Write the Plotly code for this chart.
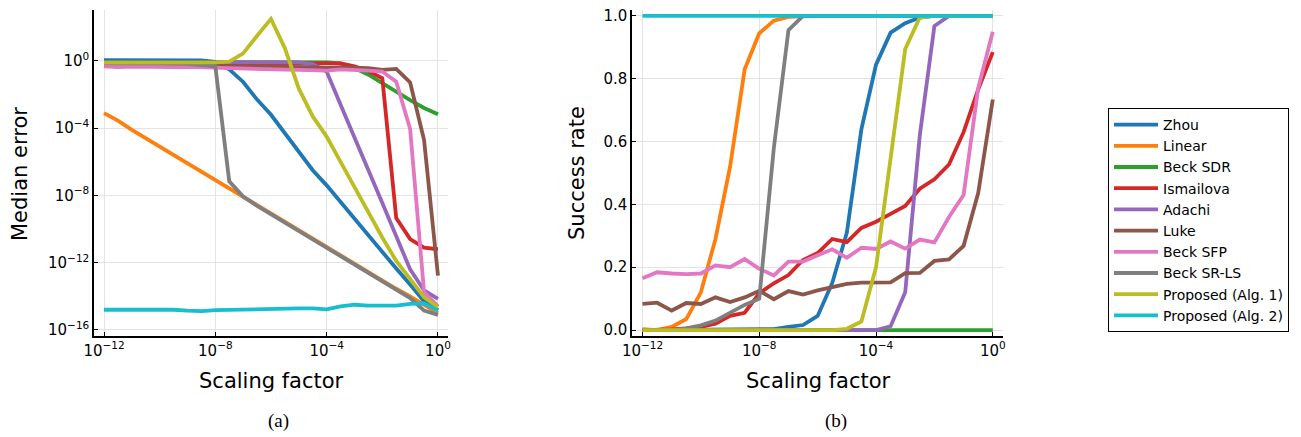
import plotly.graph_objects as go

# scaling factor exponents (x = 10**e)
scaling_exponents = [-12, -11.5, -11, -10.5, -10, -9.5, -9, -8.5, -8, -7.5, -7, -6.5, -6,
                     -5.5, -5, -4.5, -4, -3.5, -3, -2.5, -2, -1.5, -1, -0.5, 0]

methods = ["Zhou", "Linear", "Beck SDR", "Ismailova", "Adachi", "Luke",
           "Beck SFP", "Beck SR-LS", "Proposed (Alg. 1)", "Proposed (Alg. 2)"]
colors = ["#1f77b4", "#ff7f0e", "#2ca02c", "#d62728", "#9467bd", "#8c564b",
          "#e377c2", "#7f7f7f", "#bcbd22", "#17becf"]

# (a) log10 of median error
log_err_zhou = [0.05, 0.05, 0.06, 0.06, 0.06, 0.05, 0.05, 0.03, -0.05, -0.5, -1.25, -2.3, -3.2,
                -4.3, -5.4, -6.5, -7.4, -8.4, -9.35, -10.35, -11.35, -12.35, -13.3, -14.3, -14.8]
log_err_linear = [-3.1, -3.55, -4.1, -4.6, -5.1, -5.6, -6.05, -6.55, -7.05, -7.6, -8.1, -8.6, -9.05,
                  -9.55, -10.05, -10.55, -11.05, -11.55, -12.05, -12.55, -13.05, -13.55, -14.0, -14.5, -15.0]
log_err_beck_sdr = [-0.05, -0.05, -0.05, -0.05, -0.05, -0.05, -0.05, -0.05, -0.05, -0.05, -0.05, -0.05, -0.05,
                    -0.05, -0.05, -0.06, -0.08, -0.15, -0.42, -0.82, -1.33, -1.87, -2.33, -2.8, -3.17]
log_err_ismailova = [-0.15, -0.15, -0.14, -0.15, -0.14, -0.15, -0.15, -0.14, -0.15, -0.15, -0.14, -0.15, -0.15,
                     -0.14, -0.15, -0.12, -0.1, -0.15, -0.32, -0.6, -1.03, -9.35, -10.6, -11.1, -11.2]
log_err_adachi = [-0.08, -0.08, -0.07, -0.07, -0.08, -0.07, -0.07, -0.07, -0.06, -0.06, -0.05, -0.06, -0.06,
                  -0.07, -0.08, -0.18, -0.63, -2.6, -4.5, -6.5, -8.45, -10.4, -12.4, -13.65, -14.15]
log_err_luke = [-0.25, -0.25, -0.27, -0.27, -0.28, -0.28, -0.3, -0.3, -0.3, -0.32, -0.32, -0.33, -0.33,
                -0.35, -0.35, -0.37, -0.42, -0.38, -0.4, -0.43, -0.53, -0.47, -1.28, -4.7, -12.77]
log_err_beck_sfp = [-0.32, -0.36, -0.33, -0.36, -0.34, -0.37, -0.35, -0.38, -0.4, -0.42, -0.45, -0.47, -0.5,
                    -0.52, -0.53, -0.55, -0.57, -0.5, -0.52, -0.58, -0.63, -1.23, -4.05, -13.75, -14.6]
log_err_beck_srls = [-0.15, -0.15, -0.13, -0.12, -0.13, -0.15, -0.18, -0.25, -0.32, -7.16, -8.07, -8.62, -9.12,
                     -9.62, -10.12, -10.62, -11.12, -11.62, -12.12, -12.62, -13.12, -13.62, -14.1, -14.85, -15.1]
log_err_alg1 = [-0.1, -0.1, -0.1, -0.08, -0.08, -0.1, -0.08, -0.1, -0.08, -0.04, 0.45, 1.5, 2.5,
                0.75, -1.65, -3.3, -4.5, -6.0, -7.5, -9.05, -10.5, -11.9, -13.0, -14.05, -14.65]
log_err_alg2 = [-14.8, -14.8, -14.78, -14.75, -14.8, -14.8, -14.85, -14.88, -14.82, -14.8, -14.8, -14.75, -14.75,
                -14.7, -14.72, -14.72, -14.78, -14.6, -14.5, -14.55, -14.55, -14.55, -14.45, -14.42, -14.85]

# (b) success rate
succ_zhou = [0, 0, 0, 0, 0, 0, 0, 0, 0, 0.003, 0.01, 0.016, 0.045,
             0.15, 0.31, 0.64, 0.845, 0.947, 0.977, 0.995, 1, 1, 1, 1, 1]
succ_linear = [0.003, 0.0, 0.01, 0.035, 0.12, 0.29, 0.52, 0.83, 0.945, 0.985, 0.997, 1, 1,
               1, 1, 1, 1, 1, 1, 1, 1, 1, 1, 1, 1]
succ_beck_sdr = [0, 0, 0, 0, 0, 0, 0, 0, 0, 0, 0, 0, 0,
                 0, 0, 0, 0, 0, 0, 0, 0, 0, 0, 0, 0]
succ_ismailova = [0, 0, 0.002, 0.005, 0.01, 0.02, 0.045, 0.055, 0.117, 0.149, 0.175, 0.223, 0.245,
                  0.29, 0.28, 0.325, 0.345, 0.37, 0.395, 0.45, 0.48, 0.527, 0.63, 0.766, 0.885]
succ_adachi = [0, 0, 0, 0, 0, 0, 0, 0, 0, 0, 0, 0, 0,
               0, 0, 0, 0, 0.012, 0.12, 0.62, 0.968, 1, 1, 1, 1]
succ_luke = [0.083, 0.087, 0.062, 0.086, 0.083, 0.104, 0.089, 0.104, 0.125, 0.098, 0.124, 0.113, 0.126,
             0.137, 0.147, 0.151, 0.152, 0.152, 0.181, 0.182, 0.22, 0.225, 0.268, 0.436, 0.734]
succ_beck_sfp = [0.165, 0.184, 0.18, 0.178, 0.18, 0.206, 0.2, 0.226, 0.195, 0.174, 0.218, 0.218, 0.238,
                 0.257, 0.23, 0.262, 0.258, 0.282, 0.259, 0.288, 0.279, 0.36, 0.43, 0.77, 0.95]
succ_beck_srls = [0, 0, 0, 0.005, 0.015, 0.03, 0.055, 0.08, 0.10, 0.58, 0.955, 1, 1,
                  1, 1, 1, 1, 1, 1, 1, 1, 1, 1, 1, 1]
succ_alg1 = [0, 0, 0, 0, 0, 0, 0, 0, 0, 0, 0, 0, 0,
             0, 0.004, 0.027, 0.2, 0.55, 0.895, 0.995, 1, 1, 1, 1, 1]
succ_alg2 = [1, 1, 1, 1, 1, 1, 1, 1, 1, 1, 1, 1, 1,
             1, 1, 1, 1, 1, 1, 1, 1, 1, 1, 1, 1]

log_errors = [log_err_zhou, log_err_linear, log_err_beck_sdr, log_err_ismailova, log_err_adachi,
              log_err_luke, log_err_beck_sfp, log_err_beck_srls, log_err_alg1, log_err_alg2]
success = [succ_zhou, succ_linear, succ_beck_sdr, succ_ismailova, succ_adachi,
           succ_luke, succ_beck_sfp, succ_beck_srls, succ_alg1, succ_alg2]

x_tick_vals = [1e-12, 1e-8, 1e-4, 1]
x_tick_text = ["10<sup>−12</sup>", "10<sup>−8</sup>", "10<sup>−4</sup>", "10<sup>0</sup>"]
y_tick_vals = [1e-16, 1e-12, 1e-8, 1e-4, 1]
y_tick_text = ["10<sup>−16</sup>", "10<sup>−12</sup>", "10<sup>−8</sup>", "10<sup>−4</sup>", "10<sup>0</sup>"]
sr_tick_vals = [0, 0.2, 0.4, 0.6, 0.8, 1.0]

W, H = 1301, 437
FONT = "DejaVu Sans"

x = [10 ** e for e in scaling_exponents]

fig = go.Figure()
for name, col, le in zip(methods, colors, log_errors):
    fig.add_trace(go.Scatter(x=x, y=[10 ** v for v in le], mode="lines", name=name,
                             line=dict(color=col, width=3.8), showlegend=False,
                             xaxis="x", yaxis="y"))
for name, col, s in zip(methods, colors, success):
    fig.add_trace(go.Scatter(x=x, y=s, mode="lines", name=name,
                             line=dict(color=col, width=3.8), showlegend=True,
                             xaxis="x2", yaxis="y2"))

common = dict(showline=True, linecolor="black", linewidth=1.5, ticks="inside", ticklen=4,
              tickcolor="black", tickwidth=1, showgrid=True, gridcolor="#e3e3e3", gridwidth=1,
              zeroline=False, mirror=False, automargin=False,
              tickfont=dict(family=FONT, size=15, color="black"))

fig.update_layout(
    width=W, height=H,
    margin=dict(l=0, r=0, t=0, b=0),
    paper_bgcolor="white", plot_bgcolor="white",
    font=dict(family=FONT, color="black"),
    xaxis=dict(type="log", range=[-12.36, 0.36], domain=[94 / W, 448 / W], anchor="y",
               tickvals=x_tick_vals, ticktext=x_tick_text, **common),
    yaxis=dict(type="log", range=[-16.36, 3.03], domain=[1 - 336 / H, 1 - 10 / H], anchor="x",
               tickvals=y_tick_vals, ticktext=y_tick_text, **common),
    xaxis2=dict(type="log", range=[-12.36, 0.35], domain=[632 / W, 1003 / W], anchor="y2",
                tickvals=x_tick_vals, ticktext=x_tick_text, **common),
    yaxis2=dict(range=[-0.019, 1.019], domain=[1 - 336 / H, 1 - 10 / H], anchor="x2",
                tickvals=sr_tick_vals, tickformat=".1f", **common),
    legend=dict(x=1108 / W, y=1 - 108 / H, xanchor="left", yanchor="top",
                bordercolor="black", borderwidth=1, bgcolor="white", itemwidth=44,
                font=dict(family=FONT, size=14, color="black"), tracegroupgap=0),
)

ann = [
    dict(text="Median error", x=20 / W, y=1 - 174 / H, textangle=-90, font=dict(size=21)),
    dict(text="Success rate", x=577 / W, y=1 - 173 / H, textangle=-90, font=dict(size=21)),
    dict(text="Scaling factor", x=271 / W, y=1 - 381 / H, font=dict(size=21)),
    dict(text="Scaling factor", x=818 / W, y=1 - 381 / H, font=dict(size=21)),
    dict(text="(a)", x=278 / W, y=1 - 421 / H, font=dict(size=19, family="Liberation Serif")),
    dict(text="(b)", x=836 / W, y=1 - 421 / H, font=dict(size=19, family="Liberation Serif")),
]
for a in ann:
    f = dict(family=FONT, color="black")
    f.update(a.pop("font"))
    fig.add_annotation(xref="paper", yref="paper", showarrow=False, xanchor="center",
                       yanchor="middle", font=f, **a)

fig.write_html("out.html", config={"displayModeBar": False},
               post_script="document.body.style.margin='0px';document.body.style.padding='0px';"
                           "document.body.style.overflow='hidden';")
